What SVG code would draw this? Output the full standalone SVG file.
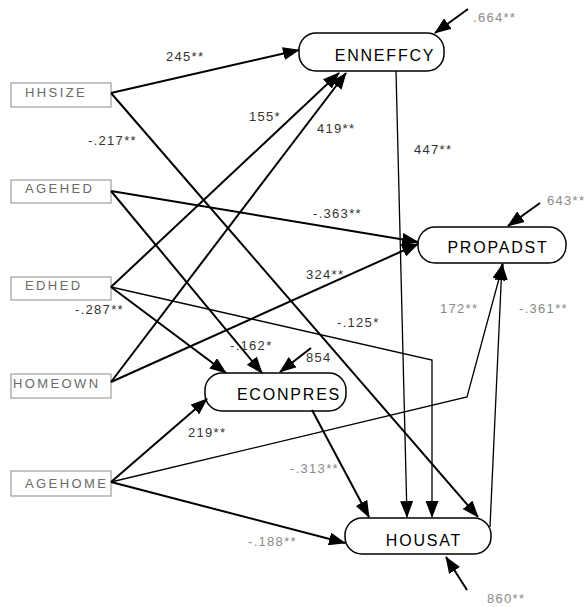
<svg xmlns="http://www.w3.org/2000/svg" width="587" height="607" viewBox="0 0 587 607">
  <defs>
    <marker id="arrow" markerUnits="userSpaceOnUse" markerWidth="17" markerHeight="13" refX="16" refY="6.5" orient="auto">
      <path d="M0,0 L17,6.5 L0,13 z" fill="#000"/>
    </marker>
  </defs>
  <style>
    .exo rect { fill: #fff; stroke: #8a8a8a; stroke-width: 1; }
    .exo text { font-family: "Liberation Sans", Arial, sans-serif; font-size: 13px; letter-spacing: 2.4px; fill: #6a6a6a; }
    .endo rect { fill: #fff; stroke: #000; stroke-width: 1.5; }
    .endo text { font-family: "Liberation Sans", Arial, sans-serif; font-size: 16px; letter-spacing: 1.8px; fill: #000; text-anchor: middle; }
    .edge { fill: none; stroke: #000; stroke-width: 2; marker-end: url(#arrow); }
    .thin { stroke-width: 1.3; }
    .lbl { font-family: "Liberation Sans", Arial, sans-serif; font-size: 13px; letter-spacing: 1.3px; fill: #333; }
    .faint { fill: #8a8a8a; }
  </style>

  <!-- exogenous variables -->
  <g id="HHSIZE" class="exo">
    <rect x="11" y="83" width="100" height="24"/>
    <text x="25" y="97">HHSIZE</text>
  </g>
  <g id="AGEHED" class="exo">
    <rect x="11" y="180" width="100" height="23"/>
    <text x="25" y="193">AGEHED</text>
  </g>
  <g id="EDHED" class="exo">
    <rect x="11" y="277" width="100" height="23"/>
    <text x="25" y="290">EDHED</text>
  </g>
  <g id="HOMEOWN" class="exo">
    <rect x="11" y="374" width="100" height="24"/>
    <text x="13" y="388">HOMEOWN</text>
  </g>
  <g id="AGEHOME" class="exo">
    <rect x="11" y="471" width="100" height="25"/>
    <text x="25" y="488">AGEHOME</text>
  </g>

  <!-- endogenous variables -->
  <g id="ENNEFFCY" class="endo">
    <rect x="299" y="33" width="145" height="38" rx="17"/>
    <text x="385" y="61">ENNEFFCY</text>
  </g>
  <g id="PROPADST" class="endo">
    <rect x="418" y="227" width="148" height="36" rx="17"/>
    <text x="498" y="253">PROPADST</text>
  </g>
  <g id="ECONPRES" class="endo">
    <rect x="205" y="373" width="141" height="38" rx="17"/>
    <text x="289" y="400">ECONPRES</text>
  </g>
  <g id="HOUSAT" class="endo">
    <rect x="345" y="518" width="146" height="36" rx="17"/>
    <text x="424" y="546">HOUSAT</text>
  </g>

  <!-- paths -->
  <g id="connectors">
    <path class="edge" d="M111,93 L299,50"/>
    <path class="edge" d="M111,93 L478,517"/>
    <path class="edge" d="M111,191 L418,242"/>
    <path class="edge" d="M111,191 L262,373"/>
    <path class="edge" d="M111,287 L339,73"/>
    <path class="edge" d="M111,287 L226,373"/>
    <path class="edge thin" d="M111,287 L432,360 L432,517"/>
    <path class="edge" d="M111,382 L346,73"/>
    <path class="edge" d="M111,382 L418,244"/>
    <path class="edge" d="M111,482 L207,399"/>
    <path class="edge thin" d="M111,482 L467,397 L503,264"/>
    <path class="edge" d="M111,482 L345,543"/>
    <path class="edge thin" d="M396,71 L407,517"/>
    <path class="edge" d="M312,410 L369,517"/>
    <path class="edge thin" d="M490,527 L502,264"/>
    <!-- residual terms -->
    <path class="edge" d="M468,9 L435,33"/>
    <path class="edge" d="M540,203 L508,226"/>
    <path class="edge" d="M311,348 L280,372"/>
    <path class="edge" d="M467,590 L446,557"/>
  </g>

  <!-- path coefficients -->
  <g id="coefficients">
    <text class="lbl" x="166" y="61">245**</text>
    <text class="lbl" x="249" y="121">155*</text>
    <text class="lbl" x="88" y="145">-.217**</text>
    <text class="lbl" x="317" y="133">419**</text>
    <text class="lbl" x="414" y="154">447**</text>
    <text class="lbl" x="313" y="218">-.363**</text>
    <text class="lbl faint" x="547" y="205">643**</text>
    <text class="lbl" x="306" y="279">324**</text>
    <text class="lbl" x="75" y="314">-.287**</text>
    <text class="lbl" x="337" y="327">-.125*</text>
    <text class="lbl faint" x="440" y="313">172**</text>
    <text class="lbl faint" x="519" y="313">-.361**</text>
    <text class="lbl" x="230" y="350">-.162*</text>
    <text class="lbl" x="306" y="362">854</text>
    <text class="lbl" x="188" y="437">219**</text>
    <text class="lbl faint" x="290" y="473">-.313**</text>
    <text class="lbl faint" x="248" y="546">-.188**</text>
    <text class="lbl faint" x="473" y="22">.664**</text>
    <text class="lbl faint" x="487" y="603">860**</text>
  </g>
</svg>
